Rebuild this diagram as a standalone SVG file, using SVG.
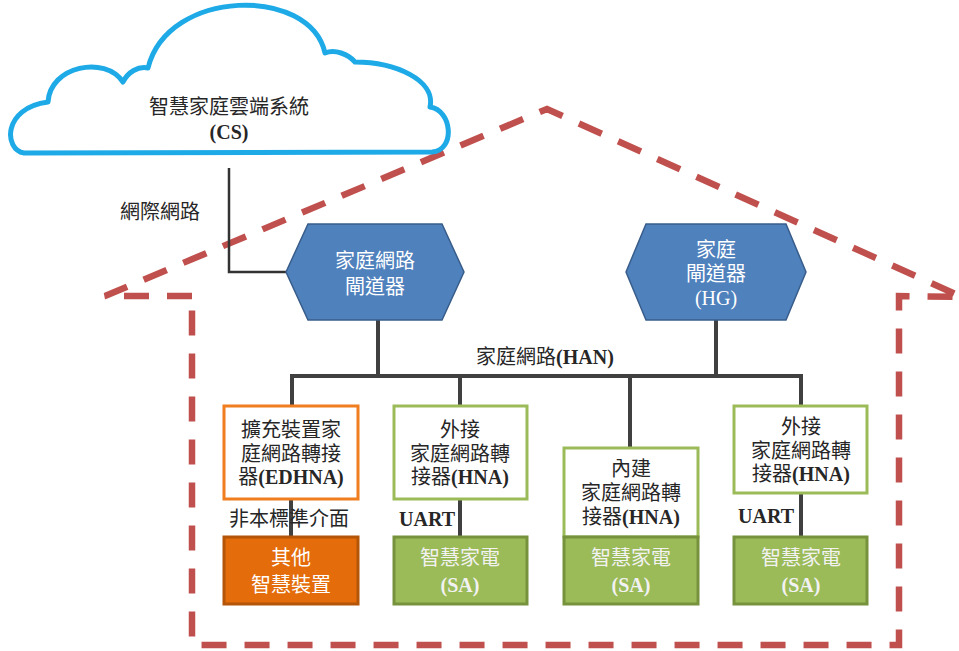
<svg xmlns="http://www.w3.org/2000/svg" width="959" height="651" viewBox="0 0 959 651">
<style>
.t{font-family:"Liberation Serif","Noto Sans CJK TC",serif;font-size:20px;fill:#262626;text-anchor:middle;dominant-baseline:central}
.w{fill:#ffffff}
.g{fill:#f2f2f2}
.b{font-weight:bold}
.hex{fill:#4f81bd;stroke:#385d8a;stroke-width:1.5}
.hna{fill:#ffffff;stroke:#9bbb59;stroke-width:3}
.sa{fill:#9bbb59;stroke:#76923c;stroke-width:3}
.ed{fill:#ffffff;stroke:#f07d1e;stroke-width:3}
.oth{fill:#e46c0a;stroke:#b45508;stroke-width:3}
.ln{fill:none;stroke:#404040;stroke-width:4}
</style>
<rect width="959" height="651" fill="#ffffff"/>
<g id="house">
<path d="M192,296 L105,296 L547,109 L962,297 L899,296 L899,645 L192,645 Z" fill="none" stroke="#c0504d" stroke-width="6.5" stroke-dasharray="25 18"/>
</g>
<g id="connectors">
<polyline points="229,168 229,272 286,272" fill="none" stroke="#333333" stroke-width="2.5"/>
<line x1="378" y1="320" x2="378" y2="376" class="ln"/>
<line x1="716" y1="320" x2="716" y2="376" class="ln"/>
<polyline points="292,406 292,376 801,376 801,406" class="ln"/>
<line x1="460" y1="376" x2="460" y2="406" class="ln"/>
<line x1="630" y1="376" x2="630" y2="448" class="ln"/>
<line x1="291" y1="499" x2="291" y2="537" class="ln"/>
<line x1="460" y1="499" x2="460" y2="537" class="ln"/>
<line x1="801" y1="493" x2="801" y2="537" class="ln"/>
<text class="t" x="160" y="212">網際網路</text>
<text class="t" x="545" y="357">家庭網路<tspan class="b">(HAN)</tspan></text>
<text class="t" x="289" y="519">非本標準介面</text>
<text class="t b" x="427" y="519">UART</text>
<text class="t b" x="766" y="516">UART</text>
</g>
<g id="cloud">
<path d="M24,153 C4,150 2,108 48,102 C50,66 105,55 123,82 C128,72 138,66 148,68 C168,-12 310,-14 325,53 C335,49 348,54 355,62 C395,62 436,80 430,107 C452,110 456,150 432,152 Z" fill="#ffffff" stroke="#1eaae7" stroke-width="5" stroke-linejoin="round"/>
<text class="t" x="229" y="107">智慧家庭雲端系統</text>
<text class="t b" x="229" y="132">(CS)</text>
</g>
<g id="hnagw">
<polygon class="hex" points="286,272 308,224 442,224 464,272 442,320 308,320"/>
<text class="t w" x="375" y="261">家庭網路</text>
<text class="t w" x="375" y="287">閘道器</text>
</g>
<g id="hg">
<polygon class="hex" points="626,272 646,224 786,224 806,272 786,320 646,320"/>
<text class="t w" x="716" y="250">家庭</text>
<text class="t w" x="716" y="274">閘道器</text>
<text class="t w" x="716" y="298">(HG)</text>
</g>
<g id="edhna">
<rect class="ed" x="224" y="406" width="134" height="93"/>
<text class="t" x="291" y="430">擴充裝置家</text>
<text class="t" x="291" y="454">庭網路轉接</text>
<text class="t" x="291" y="477">器<tspan class="b">(EDHNA)</tspan></text>
</g>
<g id="hna1">
<rect class="hna" x="394" y="406" width="133" height="93"/>
<text class="t" x="460" y="430">外接</text>
<text class="t" x="460" y="454">家庭網路轉</text>
<text class="t" x="460" y="477">接器<tspan class="b">(HNA)</tspan></text>
</g>
<g id="hna2">
<rect class="hna" x="564" y="448" width="134" height="89"/>
<text class="t" x="631" y="469">內建</text>
<text class="t" x="631" y="493">家庭網路轉</text>
<text class="t" x="631" y="517">接器<tspan class="b">(HNA)</tspan></text>
</g>
<g id="hna3">
<rect class="hna" x="734" y="406" width="133" height="87"/>
<text class="t" x="801" y="427">外接</text>
<text class="t" x="801" y="451">家庭網路轉</text>
<text class="t" x="801" y="474">接器<tspan class="b">(HNA)</tspan></text>
</g>
<g id="other">
<rect class="oth" x="224" y="537" width="134" height="67"/>
<text class="t w" x="291" y="558">其他</text>
<text class="t w" x="291" y="585">智慧裝置</text>
</g>
<g id="sa1">
<rect class="sa" x="394" y="537" width="133" height="67"/>
<text class="t g" x="460" y="558">智慧家電</text>
<text class="t g b" x="460" y="585">(SA)</text>
</g>
<g id="sa2">
<rect class="sa" x="564" y="537" width="134" height="67"/>
<text class="t g" x="631" y="558">智慧家電</text>
<text class="t g b" x="631" y="585">(SA)</text>
</g>
<g id="sa3">
<rect class="sa" x="734" y="537" width="133" height="67"/>
<text class="t g" x="801" y="558">智慧家電</text>
<text class="t g b" x="801" y="585">(SA)</text>
</g>
</svg>
